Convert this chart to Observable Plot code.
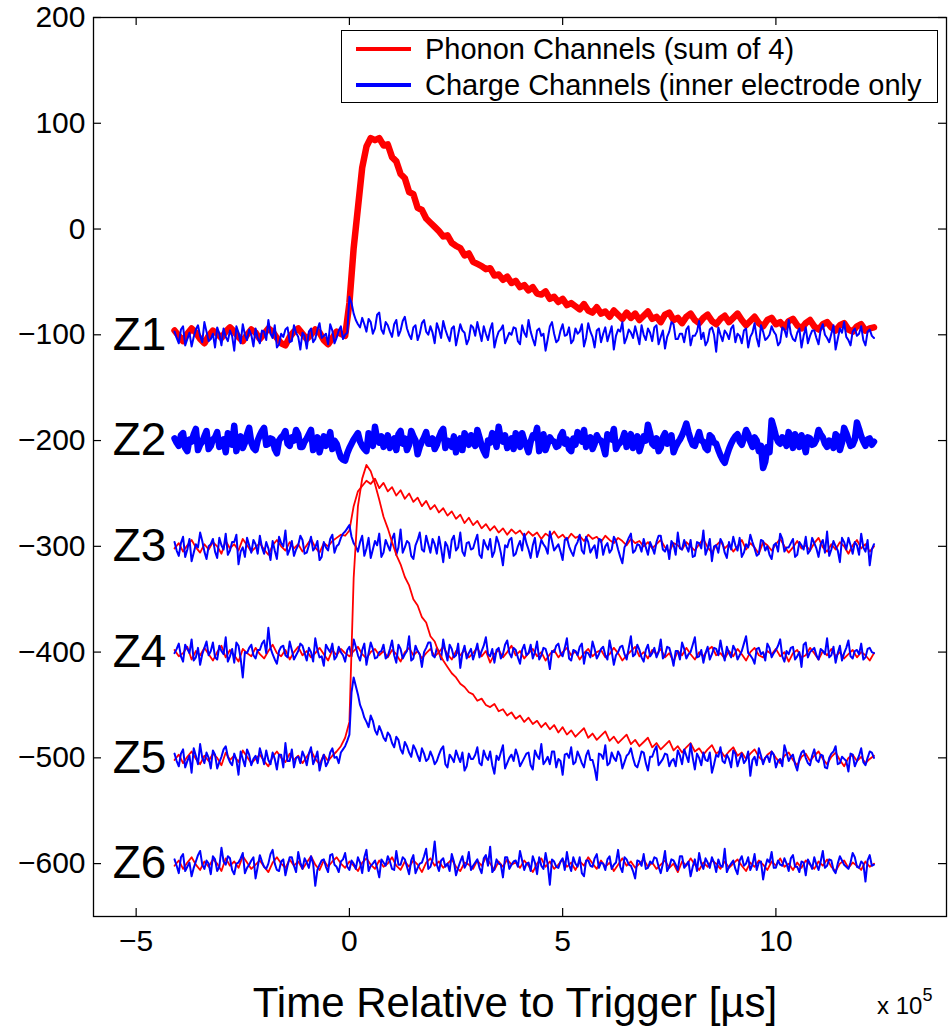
<!DOCTYPE html>
<html><head><meta charset="utf-8">
<script src="https://cdn.jsdelivr.net/npm/d3@7"></script>
<script src="https://cdn.jsdelivr.net/npm/@observablehq/plot@0.6"></script>
<style>
body{margin:0;background:#fff;font-family:"Liberation Sans",Arial,Helvetica,sans-serif;}
#wrap{position:relative;width:951px;height:1030px;overflow:hidden;}
#legend{position:absolute;left:341px;top:30px;width:597px;height:73px;border:1.5px solid #000;background:#fff;box-sizing:border-box;}
.lg{position:absolute;left:0;height:34px;width:100%;}
.lg .sw{position:absolute;left:14px;width:55px;height:4px;top:15px;}
.lg .tx{position:absolute;left:83px;top:0;font-size:29px;line-height:34px;white-space:nowrap;color:#000;}
#xlabel{position:absolute;left:515px;top:982px;transform:translateX(-50%);font-size:42px;line-height:1;white-space:nowrap;color:#000;}
#xexp{position:absolute;left:877px;top:990px;font-size:24px;line-height:1;white-space:nowrap;color:#000;}
#xexp sup{font-size:18px;position:relative;top:-4px;}
</style></head>
<body><div id="wrap"></div>
<script>
// ---- data ----
const t0 = -4.1;          // first sample time (x 10^5 µs)
const dt = 0.1;           // sample spacing; "Mid" arrays hold the samples half-way between
const xTicks = [-5, 0, 5, 10];
const yTicks = [-600, -500, -400, -300, -200, -100, 0, 100, 200];
const zNames = ["Z1", "Z2", "Z3", "Z4", "Z5", "Z6"];
const zOffsets = [-100, -200, -300, -400, -500, -600];
const legendLabels = ["Phonon Channels (sum of 4)", "Charge Channels (inner electrode only"];

const z1Phonon = [-96,-101,-106,-99,-94,-98,-104,-108,-101,-96,
-99,-103,-97,-93,-97,-102,-106,-100,-95,-98,
-104,-99,-94,-97,-103,-108,-110,-102,-97,-94,
-99,-104,-100,-95,-98,-105,-109,-103,-97,-99,
-101,-70,-18,20,58,78,86,84,86,79,
80,68,64,52,48,35,33,20,18,10,
6,2,-2,-7,-6,-13,-16,-18,-25,-23,
-31,-33,-35,-38,-37,-44,-43,-48,-45,-51,
-49,-55,-53,-58,-55,-61,-62,-59,-66,-64,
-69,-66,-72,-70,-73,-76,-71,-77,-79,-74,
-80,-78,-83,-77,-81,-85,-79,-84,-80,-86,
-82,-78,-85,-83,-88,-81,-79,-86,-84,-89,
-83,-80,-86,-89,-84,-81,-87,-90,-85,-82,
-88,-84,-80,-86,-91,-87,-83,-89,-92,-86,
-84,-90,-88,-93,-87,-85,-91,-94,-89,-86,
-92,-95,-90,-88,-93,-96,-91,-89,-95,-97,
-92,-90,-96,-94,-93];
const z1Charge = [-97,-108,-92,-104,-111,-95,-101,-88,-106,-99,
-93,-110,-102,-96,-115,-98,-90,-105,-100,-94,
-108,-97,-86,-103,-112,-99,-95,-107,-91,-102,
-98,-113,-94,-104,-89,-101,-109,-96,-103,-92,
-100,-64,-80,-90,-84,-97,-88,-94,-79,-99,
-91,-102,-86,-96,-83,-100,-93,-105,-89,-97,
-92,-108,-95,-87,-101,-94,-110,-90,-98,-104,
-93,-88,-106,-99,-95,-112,-97,-91,-103,-100,
-94,-109,-98,-86,-104,-96,-101,-115,-92,-99,
-105,-90,-100,-108,-94,-97,-111,-89,-102,-96,
-107,-93,-99,-114,-95,-88,-103,-98,-92,-109,
-100,-94,-106,-91,-102,-113,-97,-90,-104,-99,
-95,-110,-101,-87,-98,-106,-93,-116,-100,-96,
-104,-91,-99,-108,-94,-102,-89,-111,-97,-103,
-92,-100,-107,-95,-86,-104,-98,-112,-93,-101,
-96,-109,-90,-103,-99,-114,-94,-88,-105,-97,
-101,-92,-110,-95,-103];
const z1ChargeMid = [-103,-95,-110,-98,-102,-91,-107,-97,-104,-112,
-99,-94,-106,-101,-92,-108,-100,-95,-111,-103,
-96,-105,-99,-91,-109,-102,-93,-106,-98,-114,
-101,-97,-107,-95,-103,-99,-90,-108,-96,-104,
-98,-70,-86,-93,-90,-85,-99,-81,-95,-88,
-97,-90,-101,-87,-94,-104,-91,-99,-86,-100,
-98,-89,-103,-95,-106,-92,-100,-96,-109,-91,
-101,-97,-92,-105,-89,-103,-95,-108,-98,-93,
-106,-91,-102,-97,-110,-94,-99,-104,-88,-107,
-96,-101,-93,-105,-99,-90,-103,-97,-112,-94,
-99,-106,-92,-101,-97,-108,-95,-103,-100,-91,
-105,-98,-93,-109,-96,-102,-88,-104,-99,-107,
-92,-101,-97,-104,-110,-95,-100,-93,-106,-99,
-94,-107,-101,-96,-112,-98,-103,-91,-105,-100,
-97,-110,-93,-102,-99,-106,-94,-101,-108,-96,
-103,-95,-100,-107,-91,-104,-98,-102,-110,-94,
-99,-105,-97,-101];
const z2Charge = [-198,-205,-193,-210,-201,-189,-204,-196,-208,-199,
-192,-203,-211,-197,-186,-200,-207,-194,-202,-209,
-195,-188,-203,-199,-212,-197,-191,-205,-200,-194,
-206,-198,-190,-204,-211,-196,-201,-208,-203,-216,
-219,-207,-199,-193,-205,-210,-198,-187,-202,-206,
-195,-200,-209,-191,-198,-204,-196,-213,-201,-192,
-203,-208,-197,-189,-200,-206,-211,-198,-193,-204,
-199,-190,-205,-214,-202,-196,-187,-201,-207,-198,
-193,-206,-200,-211,-195,-188,-203,-209,-197,-201,
-205,-192,-199,-210,-204,-196,-190,-202,-208,-195,
-200,-213,-197,-189,-204,-199,-206,-194,-201,-210,
-196,-185,-203,-198,-207,-193,-200,-211,-202,-195,
-184,-199,-205,-192,-201,-209,-197,-203,-214,-221,
-208,-199,-194,-204,-190,-201,-197,-210,-226,-206,
-181,-196,-203,-199,-192,-207,-200,-195,-211,-198,
-203,-190,-197,-206,-201,-194,-209,-188,-199,-204,
-183,-196,-205,-198,-201];
const z2ChargeMid = [-202,-195,-207,-199,-194,-209,-201,-191,-205,-197,
-206,-199,-193,-204,-210,-196,-202,-188,-207,-200,
-191,-204,-198,-208,-200,-195,-203,-197,-190,-206,
-201,-194,-209,-197,-203,-205,-192,-200,-210,-218,
-212,-203,-196,-201,-208,-193,-205,-199,-196,-202,
-207,-198,-194,-203,-209,-191,-200,-206,-197,-203,
-198,-204,-192,-207,-201,-196,-203,-209,-199,-195,
-205,-197,-210,-200,-193,-206,-199,-195,-202,-208,
-199,-193,-205,-201,-197,-210,-194,-203,-200,-206,
-196,-203,-208,-198,-192,-201,-206,-197,-203,-199,
-205,-194,-199,-208,-202,-193,-200,-207,-196,-203,
-200,-193,-205,-210,-197,-203,-195,-206,-199,-190,
-192,-204,-198,-200,-207,-195,-202,-209,-218,-214,
-203,-196,-201,-198,-194,-206,-200,-205,-220,-211,
-188,-201,-197,-205,-199,-194,-206,-202,-197,-204,
-199,-194,-203,-200,-207,-196,-202,-193,-205,-199,
-189,-201,-199,-204];
const z3Phonon = [-302,-297,-305,-299,-294,-301,-306,-298,-303,-296,
-300,-307,-295,-302,-298,-304,-293,-299,-305,-301,
-297,-303,-308,-299,-294,-300,-304,-296,-302,-298,
-305,-299,-293,-301,-306,-297,-300,-295,-292,-289,
-290,-285,-262,-248,-243,-238,-241,-236,-245,-240,
-248,-244,-252,-247,-255,-250,-258,-254,-262,-257,
-265,-261,-268,-264,-271,-267,-274,-270,-278,-273,
-280,-276,-283,-279,-285,-281,-287,-283,-289,-284,
-288,-285,-291,-286,-290,-287,-293,-288,-291,-286,
-292,-289,-294,-288,-292,-290,-295,-289,-293,-291,
-296,-290,-294,-297,-292,-295,-299,-293,-297,-295,
-300,-296,-302,-298,-294,-301,-305,-297,-299,-303,
-296,-300,-304,-298,-293,-301,-306,-299,-295,-302,
-298,-305,-300,-294,-303,-297,-301,-307,-296,-299,
-304,-298,-293,-300,-306,-301,-295,-302,-299,-304,
-297,-292,-301,-305,-298,-303,-296,-300,-307,-299,
-294,-302,-298,-305,-300];
const z3Charge = [-296,-309,-291,-303,-314,-298,-287,-305,-300,-293,
-311,-299,-288,-304,-296,-317,-301,-292,-306,-298,
-290,-307,-302,-295,-312,-297,-285,-303,-309,-299,
-294,-306,-291,-301,-313,-296,-304,-289,-300,-292,
-286,-280,-297,-305,-290,-302,-311,-295,-288,-306,
-299,-293,-308,-284,-301,-297,-312,-294,-303,-290,
-306,-298,-291,-315,-300,-294,-304,-287,-309,-296,
-302,-289,-311,-299,-293,-305,-297,-318,-301,-292,
-307,-295,-288,-303,-299,-310,-294,-301,-286,-304,
-298,-313,-292,-305,-300,-289,-307,-296,-302,-311,
-294,-300,-306,-291,-303,-316,-297,-288,-304,-299,
-293,-308,-301,-296,-290,-305,-312,-298,-287,-303,
-300,-294,-309,-297,-285,-302,-314,-299,-293,-306,
-296,-291,-304,-310,-298,-289,-302,-307,-295,-300,
-312,-297,-288,-305,-301,-293,-308,-299,-291,-304,
-297,-310,-294,-286,-303,-300,-315,-296,-292,-307,
-299,-288,-305,-318,-298];
const z3ChargeMid = [-304,-297,-310,-293,-306,-301,-295,-312,-298,-305,
-292,-303,-308,-296,-289,-305,-310,-299,-294,-307,
-301,-296,-313,-304,-291,-300,-308,-295,-303,-290,
-307,-299,-304,-295,-310,-301,-293,-306,-298,-288,
-283,-291,-300,-296,-309,-292,-303,-299,-310,-294,
-304,-288,-301,-306,-295,-309,-299,-287,-305,-298,
-293,-307,-302,-296,-311,-290,-301,-305,-297,-303,
-295,-308,-294,-303,-310,-291,-306,-299,-294,-309,
-300,-304,-297,-311,-292,-303,-298,-307,-295,-301,
-305,-294,-300,-309,-296,-304,-291,-306,-299,-293,
-308,-297,-303,-295,-310,-301,-292,-306,-298,-305,
-301,-296,-307,-290,-303,-299,-295,-308,-302,-294,
-305,-310,-296,-302,-308,-293,-300,-306,-297,-311,
-303,-299,-292,-306,-301,-296,-309,-294,-304,-308,
-299,-305,-293,-301,-297,-310,-296,-303,-307,-292,
-302,-298,-306,-309,-295,-304,-292,-303,-299,-296,
-308,-301,-294,-303];
const z4Phonon = [-398,-404,-401,-395,-407,-399,-403,-396,-402,-408,
-400,-394,-405,-398,-403,-409,-397,-401,-404,-396,
-402,-406,-399,-393,-401,-404,-398,-407,-400,-395,
-403,-399,-405,-401,-396,-402,-408,-398,-403,-397,
-401,-404,-399,-395,-402,-406,-400,-397,-403,-399,
-405,-398,-402,-409,-400,-396,-403,-399,-406,-401,
-397,-404,-400,-395,-402,-407,-399,-403,-398,-405,
-401,-396,-404,-399,-410,-402,-398,-405,-400,-394,
-403,-399,-406,-401,-397,-404,-400,-408,-402,-398,
-405,-400,-396,-403,-399,-407,-401,-397,-404,-400,
-398,-405,-402,-396,-401,-408,-403,-399,-395,-404,
-400,-406,-398,-402,-397,-405,-401,-409,-399,-403,
-396,-402,-407,-400,-404,-398,-395,-403,-401,-406,
-399,-404,-397,-402,-408,-400,-396,-403,-405,-399,
-402,-397,-404,-400,-409,-401,-398,-405,-403,-396,
-401,-407,-399,-403,-397,-404,-400,-406,-402,-398,
-405,-400,-403,-408,-401];
const z4Charge = [-401,-392,-409,-397,-388,-405,-412,-396,-403,-391,
-407,-399,-386,-404,-410,-394,-424,-401,-393,-406,
-398,-389,-377,-402,-411,-395,-403,-390,-407,-399,
-394,-408,-400,-387,-405,-413,-397,-392,-404,-400,
-409,-395,-388,-403,-398,-412,-391,-406,-400,-393,
-404,-389,-410,-397,-402,-385,-406,-399,-414,-396,
-391,-405,-400,-388,-408,-397,-403,-415,-394,-401,
-407,-392,-399,-386,-404,-410,-396,-402,-389,-405,
-398,-411,-393,-401,-406,-390,-403,-397,-416,-400,
-392,-404,-387,-408,-399,-395,-411,-401,-390,-406,
-397,-403,-389,-412,-400,-394,-407,-385,-402,-398,
-409,-393,-401,-405,-388,-403,-396,-413,-399,-391,
-406,-400,-386,-404,-410,-395,-402,-397,-389,-408,
-401,-394,-407,-399,-385,-403,-411,-396,-400,-392,
-405,-398,-388,-409,-402,-395,-404,-414,-391,-400,
-396,-407,-399,-387,-403,-410,-394,-401,-389,-406,
-398,-392,-405,-396,-401];
const z4ChargeMid = [-397,-404,-393,-401,-408,-396,-402,-390,-399,-405,
-394,-402,-409,-397,-391,-406,-400,-396,-403,-398,
-392,-401,-396,-407,-399,-394,-405,-398,-403,-392,
-401,-396,-409,-398,-404,-393,-400,-407,-395,-403,
-398,-404,-395,-408,-392,-401,-397,-405,-399,-406,
-397,-403,-393,-406,-399,-408,-394,-402,-400,-391,
-403,-396,-407,-399,-393,-405,-392,-401,-406,-397,
-400,-405,-394,-402,-397,-398,-406,-393,-401,-396,
-405,-398,-403,-393,-400,-407,-396,-404,-399,-394,
-401,-396,-406,-398,-403,-392,-400,-405,-397,-402,
-395,-407,-399,-403,-395,-402,-396,-404,-393,-405,
-398,-404,-396,-400,-406,-395,-403,-399,-407,-397,
-402,-393,-405,-398,-401,-407,-396,-403,-400,-395,
-405,-398,-403,-392,-401,-406,-397,-402,-408,-396,
-401,-394,-404,-399,-396,-407,-400,-393,-405,-398,
-403,-397,-402,-405,-395,-401,-408,-396,-404,-399,
-402,-407,-397,-400];
const z5Phonon = [-502,-497,-505,-499,-494,-501,-506,-498,-503,-496,
-500,-507,-495,-502,-498,-504,-493,-499,-505,-501,
-497,-503,-508,-499,-494,-500,-504,-496,-502,-498,
-505,-499,-493,-501,-506,-497,-503,-498,-494,-489,
-481,-466,-330,-262,-236,-223,-229,-241,-256,-272,
-283,-296,-308,-317,-329,-337,-350,-356,-367,-372,
-385,-390,-401,-408,-414,-420,-424,-430,-433,-438,
-440,-446,-444,-450,-452,-449,-456,-454,-460,-457,
-463,-460,-466,-462,-468,-465,-471,-467,-473,-469,
-476,-471,-478,-474,-480,-476,-472,-481,-477,-483,
-479,-475,-484,-480,-486,-482,-478,-487,-483,-489,
-485,-481,-490,-486,-492,-488,-484,-493,-489,-495,
-490,-486,-494,-491,-497,-492,-488,-496,-493,-499,
-494,-490,-498,-495,-501,-496,-492,-499,-503,-497,
-494,-500,-505,-498,-495,-502,-507,-499,-496,-503,
-498,-494,-501,-506,-499,-495,-502,-508,-500,-497,
-503,-499,-505,-501,-498];
const z5Charge = [-496,-508,-492,-503,-514,-498,-487,-505,-500,-493,
-510,-499,-489,-504,-496,-516,-501,-492,-507,-498,
-491,-506,-502,-495,-511,-497,-486,-503,-509,-499,
-494,-507,-490,-501,-512,-497,-504,-491,-499,-495,
-489,-478,-424,-440,-455,-466,-460,-474,-470,-481,
-476,-486,-480,-492,-485,-495,-488,-498,-491,-503,
-494,-506,-497,-489,-509,-500,-493,-504,-512,-496,
-501,-490,-507,-499,-494,-515,-502,-488,-505,-497,
-492,-508,-500,-495,-511,-498,-487,-503,-506,-494,
-501,-516,-496,-490,-504,-499,-509,-493,-502,-521,
-497,-488,-505,-500,-494,-510,-498,-491,-507,-502,
-495,-512,-499,-489,-504,-496,-508,-501,-493,-506,
-498,-487,-511,-500,-495,-503,-514,-497,-490,-505,
-501,-493,-508,-496,-502,-517,-499,-491,-506,-498,
-494,-509,-501,-488,-503,-497,-512,-495,-500,-507,
-492,-504,-498,-510,-496,-489,-505,-501,-513,-497,
-503,-491,-507,-494,-500];
const z5ChargeMid = [-503,-496,-509,-498,-491,-506,-500,-495,-510,-497,
-504,-492,-499,-507,-502,-494,-508,-497,-501,-505,
-498,-493,-506,-501,-497,-509,-503,-492,-500,-505,
-499,-496,-506,-494,-503,-508,-495,-500,-505,-492,
-484,-438,-432,-450,-462,-471,-465,-478,-475,-484,
-479,-490,-483,-496,-489,-499,-492,-503,-496,-501,
-499,-503,-492,-506,-497,-504,-499,-495,-508,-501,
-497,-505,-493,-502,-507,-498,-495,-510,-500,-503,
-498,-504,-496,-507,-493,-501,-506,-499,-494,-509,
-503,-497,-500,-506,-494,-505,-498,-502,-510,-496,
-501,-507,-495,-503,-498,-504,-496,-500,-509,-494,
-505,-499,-493,-507,-501,-497,-503,-508,-498,-492,
-504,-500,-496,-507,-502,-495,-506,-499,-503,-497,
-509,-496,-501,-505,-494,-502,-507,-498,-500,-504,
-497,-503,-508,-495,-499,-506,-501,-493,-505,-498,
-502,-497,-509,-500,-494,-506,-499,-503,-496,-508,
-498,-504,-500,-495];
const z6Phonon = [-602,-597,-605,-599,-594,-601,-606,-598,-603,-596,
-600,-607,-595,-602,-598,-604,-593,-599,-605,-601,
-597,-603,-608,-599,-594,-600,-604,-596,-602,-598,
-605,-599,-593,-601,-606,-597,-603,-598,-594,-600,
-604,-598,-602,-607,-599,-595,-601,-605,-597,-603,
-600,-594,-602,-606,-598,-603,-597,-601,-608,-599,
-595,-602,-598,-604,-600,-596,-603,-607,-599,-601,
-605,-597,-602,-594,-600,-606,-598,-603,-596,-601,
-599,-604,-597,-602,-608,-600,-595,-603,-598,-605,
-601,-596,-603,-599,-606,-598,-602,-594,-600,-605,
-597,-603,-599,-607,-601,-595,-602,-598,-604,-600,
-596,-603,-599,-605,-601,-597,-604,-600,-608,-598,
-602,-595,-601,-606,-599,-603,-597,-600,-605,-598,
-604,-600,-596,-602,-607,-599,-603,-597,-601,-606,
-598,-602,-595,-603,-600,-606,-599,-604,-597,-601,
-605,-598,-602,-596,-603,-607,-600,-597,-604,-599,
-602,-606,-598,-603,-600];
const z6Charge = [-596,-609,-591,-603,-612,-598,-588,-605,-600,-593,
-607,-585,-601,-595,-610,-599,-590,-604,-597,-614,
-592,-603,-600,-587,-606,-598,-611,-594,-602,-589,
-605,-599,-593,-621,-601,-596,-608,-591,-603,-598,
-590,-606,-600,-594,-609,-587,-602,-597,-613,-599,
-593,-605,-588,-601,-596,-610,-592,-604,-599,-586,
-603,-579,-607,-595,-600,-591,-611,-598,-604,-589,
-602,-596,-609,-592,-584,-605,-600,-613,-594,-601,
-597,-588,-606,-599,-593,-610,-602,-590,-620,-598,
-604,-595,-589,-607,-600,-594,-612,-597,-603,-591,
-599,-606,-593,-601,-587,-608,-596,-602,-614,-598,
-591,-604,-600,-595,-609,-588,-603,-597,-606,-593,
-601,-612,-596,-590,-605,-599,-594,-608,-602,-586,
-603,-597,-610,-593,-600,-606,-591,-599,-615,-596,
-589,-604,-601,-595,-607,-592,-603,-598,-611,-600,
-594,-606,-588,-602,-597,-609,-593,-601,-605,-590,
-603,-598,-617,-592,-601];
const z6ChargeMid = [-602,-594,-607,-599,-604,-592,-601,-597,-610,-596,
-603,-598,-593,-606,-600,-595,-609,-601,-594,-603,
-598,-605,-591,-600,-607,-596,-602,-594,-608,-599,
-595,-604,-600,-606,-597,-603,-592,-601,-608,-596,
-603,-597,-605,-599,-594,-607,-600,-604,-596,-602,
-598,-606,-601,-594,-603,-597,-609,-600,-593,-605,
-596,-601,-597,-603,-607,-598,-604,-593,-600,-606,
-599,-604,-595,-602,-608,-596,-601,-594,-605,-598,
-603,-597,-600,-607,-599,-594,-605,-601,-596,-603,
-598,-606,-601,-594,-603,-609,-597,-602,-595,-604,
-600,-596,-605,-599,-603,-594,-601,-607,-597,-602,
-605,-598,-594,-603,-600,-607,-596,-601,-593,-604,
-598,-603,-607,-600,-595,-604,-599,-596,-603,-608,
-600,-605,-597,-602,-594,-601,-606,-598,-603,-599,
-604,-597,-602,-600,-595,-603,-608,-599,-596,-605,
-601,-598,-604,-596,-606,-600,-597,-603,-599,-594,
-604,-600,-597,-602];

// drawing order (as in the original): each channel's phonon trace then its charge trace
const traces = [
  {values: z1Phonon, kind: "phonon", thick: true},
  {values: z1Charge, mid: z1ChargeMid, kind: "charge", thick: false},
  {values: z2Charge, mid: z2ChargeMid, kind: "charge", thick: true},
  {values: z3Phonon, kind: "phonon", thick: false},
  {values: z3Charge, mid: z3ChargeMid, kind: "charge", thick: false},
  {values: z4Phonon, kind: "phonon", thick: false},
  {values: z4Charge, mid: z4ChargeMid, kind: "charge", thick: false},
  {values: z5Phonon, kind: "phonon", thick: false},
  {values: z5Charge, mid: z5ChargeMid, kind: "charge", thick: false},
  {values: z6Phonon, kind: "phonon", thick: false},
  {values: z6Charge, mid: z6ChargeMid, kind: "charge", thick: false}
];

// ---- layout ----
const W = 951, H = 1030;
const mL = 93, mR = 5, mT = 17, mB = 114;
const fw = W - mL - mR, fh = H - mT - mB;
const colors = {phonon: "#ff0000", charge: "#0000ff"};
const minus = d => d < 0 ? "\u2212" + Math.abs(d) : String(d);

function samples(tr) {
  const out = [];
  tr.values.forEach((v, i) => {
    out.push({t: t0 + i * dt, v});
    if (tr.mid && i < tr.mid.length) out.push({t: t0 + (i + 0.5) * dt, v: tr.mid[i]});
  });
  return out;
}

const lineMarks = traces.map(tr => Plot.line(samples(tr),
  {x: "t", y: "v", stroke: colors[tr.kind],
   strokeWidth: tr.thick ? 6.5 : (tr.kind === "charge" ? 2 : 1.8),
   strokeLinejoin: "round", strokeLinecap: "round"}
));

const chart = Plot.plot({
  width: W, height: H,
  marginLeft: mL, marginRight: mR, marginTop: mT, marginBottom: mB,
  x: {domain: [-6, 14]},
  y: {domain: [-650, 200]},
  style: {fontSize: "30px", fontFamily: "'Liberation Sans', Arial, Helvetica, sans-serif", color: "#000", background: "#fff", overflow: "visible"},
  marks: [
    ...lineMarks,
    Plot.text(zNames, {y: (d, i) => zOffsets[i], text: d => d, frameAnchor: "left", dx: 46, textAnchor: "middle", fontSize: 46, fill: "#000"}),
    Plot.frame({stroke: "#000", strokeWidth: 1.3}),
    Plot.tickX(xTicks, {x: d => d, insetTop: fh - 8, stroke: "#000", strokeWidth: 1.2}),
    Plot.tickX(xTicks, {x: d => d, insetBottom: fh - 8, stroke: "#000", strokeWidth: 1.2}),
    Plot.tickY(yTicks, {y: d => d, insetRight: fw - 8, stroke: "#000", strokeWidth: 1.2}),
    Plot.tickY(yTicks, {y: d => d, insetLeft: fw - 8, stroke: "#000", strokeWidth: 1.2}),
    Plot.axisX(xTicks, {tickSize: 0, tickPadding: 13, tickFormat: minus, label: null}),
    Plot.axisY(yTicks, {tickSize: 0, tickPadding: 8, tickFormat: minus, label: null})
  ]
});

const wrap = document.getElementById("wrap");
wrap.appendChild(chart);

// legend
const legend = document.createElement("div");
legend.id = "legend";
["phonon", "charge"].forEach((k, i) => {
  const row = document.createElement("div");
  row.className = "lg";
  row.style.top = (1 + i * 36) + "px";
  const sw = document.createElement("div");
  sw.className = "sw"; sw.style.background = colors[k];
  const tx = document.createElement("div");
  tx.className = "tx"; tx.textContent = legendLabels[i];
  row.appendChild(sw); row.appendChild(tx);
  legend.appendChild(row);
});
wrap.appendChild(legend);

const xl = document.createElement("div");
xl.id = "xlabel"; xl.textContent = "Time Relative to Trigger [\u00b5s]";
wrap.appendChild(xl);
const xe = document.createElement("div");
xe.id = "xexp"; xe.innerHTML = "x 10<sup>5</sup>";
wrap.appendChild(xe);
</script>
</body></html>
